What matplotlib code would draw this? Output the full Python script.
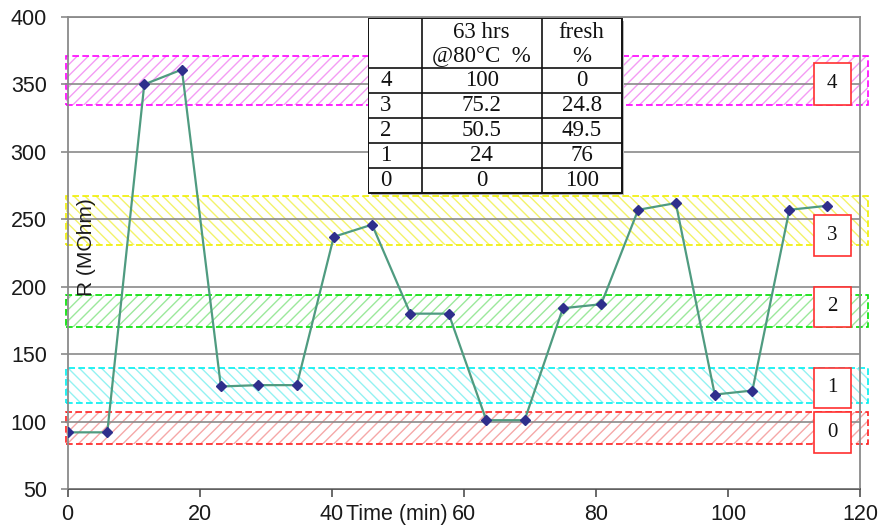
import matplotlib
matplotlib.use('Agg')
import matplotlib.pyplot as plt
from matplotlib.patches import Rectangle

# resistance during the test
time_min = [0, 6, 11.6, 17.3, 23.2, 28.9, 34.7, 40.3, 46.1, 51.9, 57.7,
            63.4, 69.2, 75.0, 80.8, 86.4, 92.1, 98.0, 103.7, 109.3, 115.0]
resistance = [92, 92, 350, 361, 126, 127, 127, 237, 246, 180, 180,
              101, 101, 184, 187, 257, 262, 120, 123, 257, 260]

# levels and their bands (MOhm)
levels = ['0', '1', '2', '3', '4']
band_low = [83, 114, 170, 231, 335]
band_high = [107, 140, 194, 267, 371]

# table: share of aged / fresh material for each level
table_levels = ['4', '3', '2', '1', '0']
aged_pct = ['100', '75.2', '50.5', '24', '0']
fresh_pct = ['0', '24.8', '49.5', '76', '100']

band_edge = ['#ff2020', '#00f0f0', '#00e000', '#f0f000', '#ff00ff']
band_hatch = ['#f5a8a8', '#94f2f2', '#9ce89c', '#f3f36a', '#f49cf4']
band_pattern = ['///', '\\\\\\', '///', '\\\\\\', '///']
box_y = [(77, 107), (110, 140), (170, 200), (223, 253), (335, 366)]

plt.rcParams['font.family'] = ['Liberation Sans', 'DejaVu Sans']
plt.rcParams['hatch.linewidth'] = 1.0
serif = ['Liberation Serif', 'DejaVu Serif']

fig = plt.figure(figsize=(8.8, 5.3), dpi=100)
ax = fig.add_axes([0.0769, 0.0774, 0.9004, 0.8906])
ax.set_xlim(0, 120)
ax.set_ylim(50, 400)
ax.set_xticks(range(0, 121, 20))
ax.set_yticks(range(50, 401, 50))

ax.yaxis.grid(True, color='#8a8a8a', lw=1.2, zorder=2)
ax.set_axisbelow(False)
for s in ['left', 'top', 'right']:
    ax.spines[s].set_color('#8a8a8a')
    ax.spines[s].set_linewidth(1.3)
ax.spines['bottom'].set_color('#505050')
ax.spines['bottom'].set_linewidth(1.3)
ax.tick_params(axis='y', length=5, width=1.2, color='#8a8a8a', pad=10,
               labelsize=15.5, labelcolor='#1a1a1a')
ax.tick_params(axis='x', length=6, width=1.2, color='#505050', pad=5,
               labelsize=15.5, labelcolor='#1a1a1a')

# hatched bands
for i in range(len(levels)):
    lo, hi = band_low[i], band_high[i]
    ax.add_patch(Rectangle((-0.3, lo), 121.5, hi - lo, fill=False, lw=0,
                           hatch=band_pattern[i], edgecolor=band_hatch[i],
                           clip_on=False, zorder=1))
    ax.add_patch(Rectangle((-0.3, lo), 121.5, hi - lo, fill=False, lw=1.2,
                           ls=(0, (4, 2)), edgecolor=band_edge[i],
                           clip_on=False, zorder=1.5))

ax.plot(time_min, resistance, color='#4f9b80', lw=1.6, marker='D',
        markersize=5.5, markerfacecolor='#2f2f8c', markeredgecolor='#2f2f8c',
        zorder=4)

# level boxes on the right
for i, lab in enumerate(levels):
    y0, y1 = box_y[i]
    ax.add_patch(Rectangle((113.0, y0), 5.6, y1 - y0, facecolor='white',
                           edgecolor='#ff3030', lw=1.2, clip_on=False, zorder=5))
    ax.text(115.8, (y0 + y1) / 2, lab, ha='center', va='center', fontsize=15,
            family=serif, color='#111111', zorder=6)

ax.text(0.0235, 0.513, 'R (MOhm)', transform=ax.transAxes, rotation=90,
        ha='center', va='center', fontsize=15, color='#1a1a1a', zorder=6)
ax.annotate('Time (min)', xy=(49.8, 0), xycoords=('data', 'axes fraction'),
            xytext=(0, -11), textcoords='offset points', ha='center', va='top',
            fontsize=15.5, color='#1a1a1a')

# table drawn in its own axes (pixel units)
tab = fig.add_axes([368.3 / 880, (530 - 195.3) / 530, 256.4 / 880, 177 / 530])
tab.set_xlim(0, 256.4)
tab.set_ylim(177, 0)
tab.axis('off')
tab.add_patch(Rectangle((2.5, 2.5), 253.4, 175, facecolor='#b8b8b8', lw=0))
tab.add_patch(Rectangle((0, 0), 253.4, 175, facecolor='white',
                        edgecolor='#111111', lw=1.4))
col_x = [0, 53.4, 173.4, 253.4]
row_y = [0, 50, 75, 100, 125, 150, 175]
for cx in col_x[1:-1]:
    tab.plot([cx, cx], [0, 175], color='#111111', lw=1.2)
for ry in row_y[1:-1]:
    tab.plot([0, 253.4], [ry, ry], color='#111111', lw=1.2)

tfont = dict(family=serif, fontsize=16.5, color='#111111')
tab.text(113.4, 14, '63 hrs', ha='center', va='center', **tfont)
tab.text(113.4, 38, '@80°C  %', ha='center', va='center', **tfont)
tab.text(213.4, 14, 'fresh', ha='center', va='center', **tfont)
tab.text(213.4, 38, '%', ha='center', va='center', **tfont)
for j in range(len(table_levels)):
    yc = (row_y[j + 1] + row_y[j + 2]) / 2
    tab.text(12, yc, table_levels[j], ha='left', va='center', **tfont)
    tab.text(113.4, yc, aged_pct[j], ha='center', va='center', **tfont)
    tab.text(213.4, yc, fresh_pct[j], ha='center', va='center', **tfont)

fig.savefig('out.png', dpi=100)
